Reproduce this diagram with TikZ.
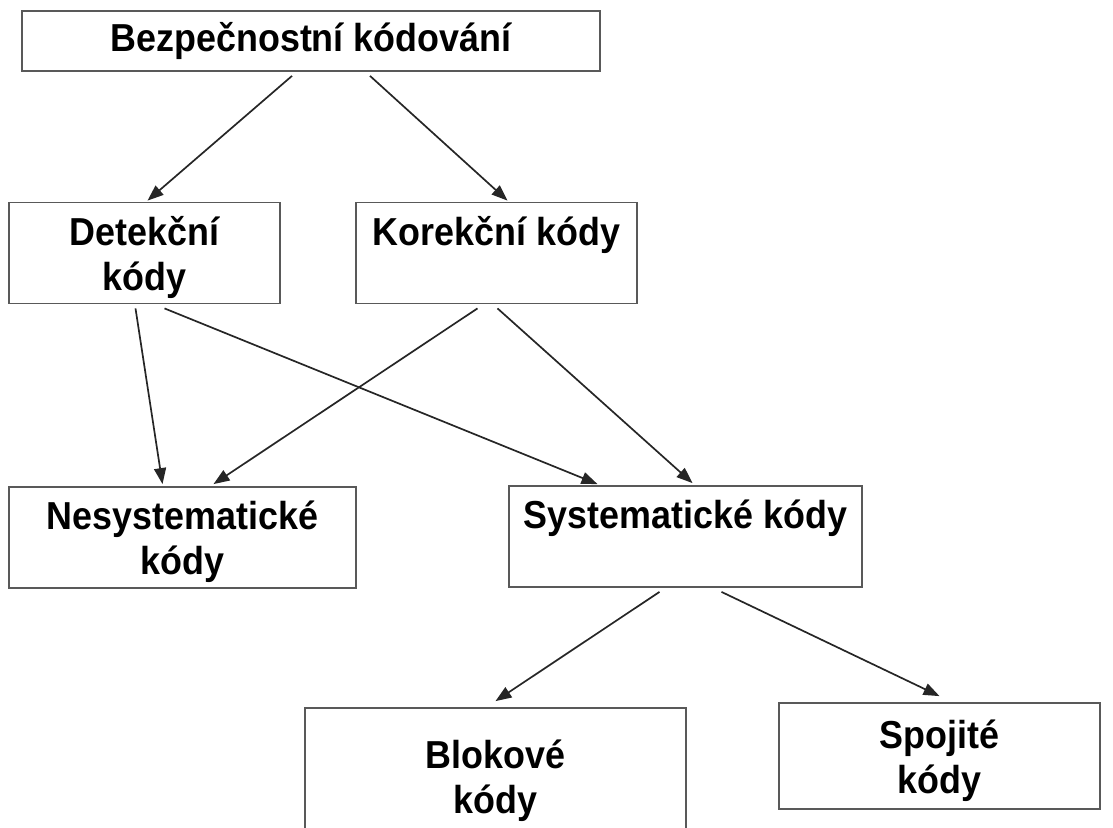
\documentclass[tikz,border=0pt]{standalone}
\usepackage{fontspec}
\setmainfont{Liberation Sans}[FakeStretch=0.92]
\usetikzlibrary{arrows.meta,calc}
\newcommand\topstrut{\rule{0pt}{42.5pt}}
\begin{document}
\begin{tikzpicture}[x=1pt,y=-1pt,
  box/.style={draw=black!65, line width=1.8pt, fill=white, align=center, inner sep=0pt,
    font=\fontsize{39}{45}\selectfont\bfseries},
  conn/.style={line width=1.7pt, black!85, -{Triangle[length=16pt,width=12pt]}}]
\useasboundingbox (0,0) rectangle (1113,827);
\node[box, minimum width=578pt, minimum height=60pt] (b1) at (311,41) {Bezpečnostní kódování};
\node[box, minimum width=271pt, minimum height=100pt] (det) at (144.5,253) {\topstrut Detekční\\\strut kódy};
\node[box, minimum width=281pt, minimum height=100pt] (kor) at (496.5,253) {\topstrut Korekční kódy\\\strut};
\node[box, minimum width=347pt, minimum height=97pt] (nes) at (182.5,537.5) {\topstrut Nesystematické\\\strut kódy};
\node[box, minimum width=353pt, minimum height=97pt] (sys) at (685.5,536.5) {\topstrut Systematické kódy\\\strut};
\node[box, minimum width=381pt, minimum height=136pt] (blok) at (495.5,776) {\topstrut Blokové\\\strut kódy};
\node[box, minimum width=321pt, minimum height=106pt] (spoj) at (939.5,756) {\topstrut Spojité\\\strut kódy};
\draw[conn] ($(b1.south)+(-19,4)$) -- ($(det.north)+(3,-1)$);
\draw[conn] ($(b1.south)+(59,4)$) -- ($(kor.north)+(11,-1)$);
\draw[conn] ($(det.south)+(-9,4)$) -- ($(nes.north)+(-20,-2)$);
\draw[conn] ($(det.south)+(20,4)$) -- ($(sys.north)+(-88,-1)$);
\draw[conn] ($(kor.south)+(-19,4)$) -- ($(nes.north)+(31,-2)$);
\draw[conn] ($(kor.south)+(1,4)$) -- ($(sys.north)+(7,-2)$);
\draw[conn] ($(sys.south)+(-26,4)$) -- ($(blok.north)+(0,-6)$);
\draw[conn] ($(sys.south)+(36,4)$) -- ($(spoj.north)+(0,-6)$);
\end{tikzpicture}
\end{document}
